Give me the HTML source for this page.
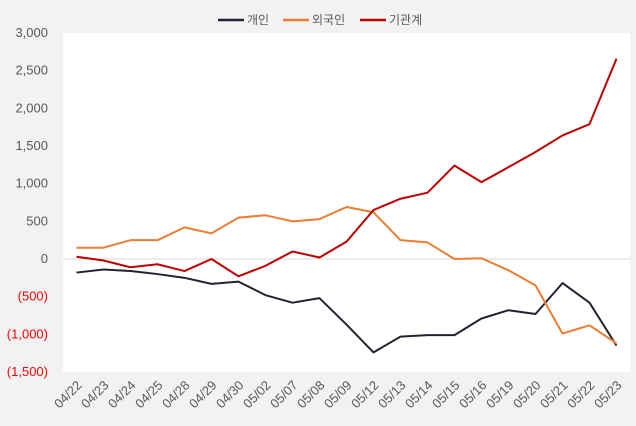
<!DOCTYPE html>
<html><head><meta charset="utf-8"><style>
body{margin:0;background:#f2f2f2;}
svg{display:block;font-family:"Liberation Sans","Noto Sans CJK KR",sans-serif;}
</style></head><body>
<svg id="c" width="636" height="426">
<rect x="0" y="0" width="636" height="426" fill="#f2f2f2"/>
<rect x="63" y="33" width="567" height="339" fill="#fff"/>
<g font-size="12" fill="#595959">
<g><line x1="218" y1="20" x2="244" y2="20" stroke="#1f2430" stroke-width="2.5"/><text x="247" y="24">개인</text></g>
<g><line x1="283" y1="20" x2="309" y2="20" stroke="#ed7d31" stroke-width="2.5"/><text x="312" y="24">외국인</text></g>
<g><line x1="360" y1="20" x2="386" y2="20" stroke="#c00000" stroke-width="2.5"/><text x="389" y="24">기관계</text></g>
</g>
<g id="ax"></g><g id="ser"></g>
</svg>
<script>
const categories=["04/22","04/23","04/24","04/25","04/28","04/29","04/30","05/02","05/07","05/08","05/09","05/12","05/13","05/14","05/15","05/16","05/19","05/20","05/21","05/22","05/23"];
const individual=[-180,-140,-160,-200,-250,-330,-300,-480,-580,-520,-870,-1240,-1030,-1010,-1010,-790,-680,-730,-320,-580,-1150];
const foreign=[150,150,250,250,420,340,550,580,500,530,690,620,250,220,0,10,-150,-350,-990,-880,-1120];
const institution=[30,-20,-110,-70,-160,0,-230,-90,100,20,230,650,800,880,1240,1020,1220,1420,1640,1790,2660];
const yTicks=[3000,2500,2000,1500,1000,500,0,-500,-1000,-1500];
const yTickLabels=["3,000","2,500","2,000","1,500","1,000","500","0","(500)","(1,000)","(1,500)"];
const NS="http://www.w3.org/2000/svg";
const L=63,R=630,T=33,B=372,yMax=3000,yMin=-1500;
const y=v=>T+(yMax-v)*(B-T)/(yMax-yMin);
const bw=(R-L)/categories.length;
const x=i=>L+bw*(i+0.5);
const ax=document.getElementById('ax'),ser=document.getElementById('ser');
function mk(t,a,p){const e=document.createElementNS(NS,t);for(const k in a)e.setAttribute(k,a[k]);p.appendChild(e);return e;}
yTicks.forEach((v,i)=>{
 const t=mk('text',{x:48,y:y(v)+4,'text-anchor':'end','font-size':13,fill:v<0?'#ff0000':'#595959'},ax);
 
 
 t.textContent=yTickLabels[i];
});
const zl=mk('line',{x1:L,x2:R,y1:y(0),y2:y(0),stroke:'#d9d9d9','stroke-width':1},ax);


categories.forEach((c,i)=>{
 const t=mk('text',{x:0,y:0,'text-anchor':'end','font-size':13,fill:'#595959',transform:`translate(${x(i)+6},${B+14}) rotate(-45)`},ax);
 
 
 t.textContent=c;
});
[[individual,'#1f2430','line-individual'],[foreign,'#ed7d31','line-foreign'],[institution,'#c00000','line-institution']].forEach(([d,col,n])=>{
 const p=mk('polyline',{points:d.map((v,i)=>x(i)+','+y(v)).join(' '),fill:'none',stroke:col,'stroke-width':2,'stroke-linejoin':'round'},ser);
 
 
});
</script>
</body></html>
